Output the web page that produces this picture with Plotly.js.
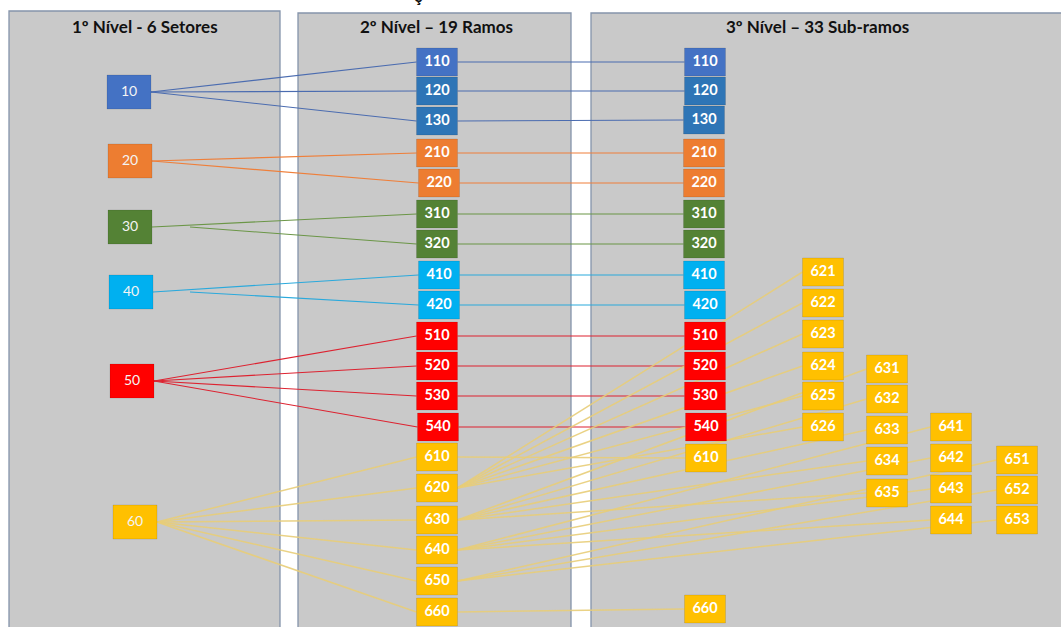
<!DOCTYPE html>
<html><head><meta charset="utf-8">
<script src="https://cdn.plot.ly/plotly-3.0.1.min.js"></script>
<style>html,body{margin:0;padding:0;background:#fff}#chart{width:1061px;height:627px}</style>
</head><body><div id="chart"></div>
<script>
// ---- data ----
var panelTitles = ['1º Nível - 6 Setores', '2º Nível – 19 Ramos', '3º Nível – 33 Sub-ramos'];

var level1Codes = ['10','20','30','40','50','60'];
var level1X = [129,130,130,131,132,135];
var level1Y = [92,161,227,292,381,522];

var level2Codes = ['110','120','130','210','220','310','320','410','420','510','520','530','540','610','620','630','640','650','660'];
var level2X = [437,437,437,437,439,437,437,439,439,437,437,437,438,437,437,437,437,437,437];
var level2Y = [62,91,121,153,183,214,244,275,305,336,366,396,427,457,488,520,550,581,612];

var level3Codes = ['110','120','130','210','220','310','320','410','420','510','520','530','540','610','660',
                   '621','622','623','624','625','626',
                   '631','632','633','634','635',
                   '641','642','643','644',
                   '651','652','653'];
var level3X = [705,705,704,704,704,704,704,704,705,705,705,705,706,706,705,
               823,823,823,823,823,823,
               887,887,887,887,887,
               951,951,951,951,
               1017,1017,1017];
var level3Y = [62,91,120,153,183,214,244,275,305,336,366,396,427,458,609,
               272,303,334,366,396,427,
               369,399,430,461,493,
               427,458,489,520,
               460,490,520];
// parent (level2 code) of each level3 node
var level3Parent = ['110','120','130','210','220','310','320','410','420','510','520','530','540','610','660',
                    '620','620','620','620','620','620',
                    '630','630','630','630','630',
                    '640','640','640','640',
                    '650','650','650'];
// edges from sector box that start further right
var edgeStartOverride = {'320':190, '420':190};

// ---- styles ----
var boxFill = {'1':'#4472c4','2':'#ed7d31','3':'#548235','4':'#00b0f0','5':'#ff0000','6':'#ffc000'};
var boxFillSpecial = {'120':'#2e75b6','130':'#2e75b6'};
var lineColor = {'1':'#4b6cb0','2':'#ef7f3a','3':'#6b9647','4':'#2aa9dc','5':'#dd2230','6':'rgba(232,205,120,0.9)'};
var L1W = 44, L1H = 34, BW = 41, BH = 28;

function sector(code){ return code.charAt(0); }
function colorOf(code){ return boxFillSpecial[code] || boxFill[sector(code)]; }

var traces = [];
// ---- edges ----
var edges = {}; Object.keys(lineColor).forEach(function(k){ edges[k] = {x:[], y:[]}; });
level2Codes.forEach(function(c, i){
  var s = sector(c), pi = level1Codes.indexOf(s + '0');
  var x0 = edgeStartOverride[c] || (level1X[pi] + L1W/2);
  edges[s].x.push(x0, level2X[i] - BW/2, null);
  edges[s].y.push(level1Y[pi], level2Y[i], null);
});
level3Codes.forEach(function(c, i){
  var p = level3Parent[i], pi = level2Codes.indexOf(p), s = sector(c);
  edges[s].x.push(level2X[pi] + BW/2, level3X[i] - BW/2, null);
  edges[s].y.push(level2Y[pi], level3Y[i], null);
});
Object.keys(edges).forEach(function(s){
  traces.push({type:'scatter', mode:'lines', x:edges[s].x, y:edges[s].y, hoverinfo:'skip',
    line:{color:lineColor[s], width: s==='6' ? 1.5 : 1.1}, showlegend:false});
});

// ---- boxes ----
var boxes = {};
function addBox(code, cx, cy, w, h){
  var col = colorOf(code);
  if(!boxes[col]) boxes[col] = {x:[], y:[]};
  boxes[col].x.push(cx-w/2, cx+w/2, cx+w/2, cx-w/2, cx-w/2, null);
  boxes[col].y.push(cy-h/2, cy-h/2, cy+h/2, cy+h/2, cy-h/2, null);
}
level1Codes.forEach(function(c,i){ addBox(c, level1X[i], level1Y[i], L1W, L1H); });
level2Codes.forEach(function(c,i){ addBox(c, level2X[i], level2Y[i], BW, BH); });
level3Codes.forEach(function(c,i){ addBox(c, level3X[i], level3Y[i], BW, BH); });
Object.keys(boxes).forEach(function(col){
  traces.push({type:'scatter', mode:'lines', x:boxes[col].x, y:boxes[col].y, fill:'toself',
    fillcolor:col, line:{color:'rgba(0,0,0,0.1)', width:1}, hoverinfo:'skip', showlegend:false});
});

// ---- labels ----
traces.push({type:'scatter', mode:'text', x:level1X, y:level1Y, text:level1Codes, hoverinfo:'skip',
  textfont:{family:'Lato, "Open Sans", sans-serif', size:14, color:'#f4f4f4'}, showlegend:false});
traces.push({type:'scatter', mode:'text', x:level2X.concat(level3X), y:level2Y.concat(level3Y),
  text:level2Codes.concat(level3Codes).map(function(t){return '<b>'+t+'</b>';}), hoverinfo:'skip',
  textfont:{family:'Lato, "Open Sans", sans-serif', size:14.5, color:'#ffffff'}, showlegend:false});

// ---- panels ----
var panelX0 = [9, 298, 591], panelX1 = [280, 571, 1070], panelY0 = [11, 13, 13];
var panelTitleX = [145, 436, 817];
var shapes = panelX0.map(function(x0, i){
  return {type:'rect', xref:'x', yref:'y', x0:x0, x1:panelX1[i], y0:panelY0[i], y1:640, layer:'below',
    fillcolor:'#c9c9c9', line:{color:'#8594ab', width:1.3}};
});
var annotations = panelTitles.map(function(t, i){
  return {xref:'x', yref:'y', x:panelTitleX[i], y:26, text:'<b>'+t+'</b>', showarrow:false,
    font:{family:'Lato, "Open Sans", sans-serif', size:17, color:'#111'}};
});
annotations.push({xref:'x', yref:'y', x:418, y:8, yanchor:'bottom', text:'<b>ç</b>', showarrow:false,
  font:{family:'Lato, sans-serif', size:17, color:'#111'}});

var layout = {
  width:1061, height:627, margin:{l:0,r:0,t:0,b:0},
  paper_bgcolor:'#ffffff', plot_bgcolor:'#ffffff',
  xaxis:{range:[0,1061], visible:false, fixedrange:true},
  yaxis:{range:[627,0], visible:false, fixedrange:true},
  shapes:shapes, annotations:annotations, showlegend:false
};
Plotly.newPlot('chart', traces, layout, {displayModeBar:false, staticPlot:true});
</script></body></html>
